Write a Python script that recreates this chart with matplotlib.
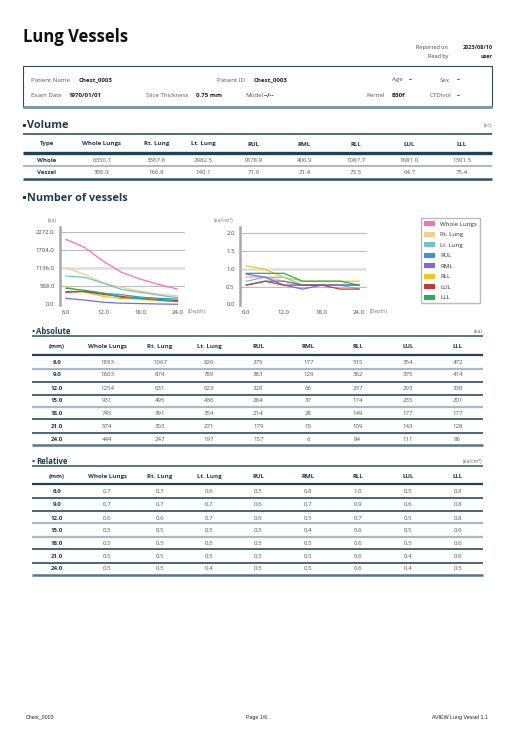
import matplotlib
matplotlib.use('Agg')
import matplotlib.pyplot as plt
from matplotlib.patches import Patch, Rectangle

plt.rcParams['font.family'] = ['Open Sans', 'DejaVu Sans']

regions = ['Whole Lungs', 'Rt. Lung', 'Lt. Lung', 'RUL', 'RML', 'RLL', 'LUL', 'LLL']
colors = ['#ff6eb4', '#f0cf8f', '#6cc6b9', '#3a90dc', '#7b68e6', '#f6c31a', '#c33a2e', '#29ab5e']

vol_whole = [6350.1, 3367.6, 2982.5, 1878.9, 400.9, 1087.7, 1681.0, 1301.5]
vol_vessel = [306.9, 166.8, 140.1, 71.9, 21.4, 73.5, 64.7, 75.4]

depths = [6.0, 9.0, 12.0, 15.0, 18.0, 21.0, 24.0]

# tables, one row per depth
abs_rows = [
    [1893, 1067, 826, 375, 177, 515, 354, 472],
    [1663, 874, 789, 383, 129, 362, 375, 414],
    [1254, 631, 623, 328, 66, 237, 293, 330],
    [931, 495, 436, 284, 37, 174, 235, 201],
    [745, 391, 354, 214, 28, 149, 177, 177],
    [574, 303, 271, 179, 15, 109, 143, 128],
    [444, 247, 197, 157, 6, 84, 111, 86],
]
rel_rows = [
    [0.7, 0.7, 0.6, 0.5, 0.8, 1.0, 0.5, 0.8],
    [0.7, 0.7, 0.7, 0.6, 0.7, 0.9, 0.6, 0.8],
    [0.6, 0.6, 0.7, 0.6, 0.5, 0.7, 0.5, 0.8],
    [0.5, 0.5, 0.5, 0.5, 0.4, 0.6, 0.5, 0.6],
    [0.5, 0.5, 0.5, 0.5, 0.5, 0.6, 0.5, 0.6],
    [0.5, 0.5, 0.5, 0.5, 0.5, 0.6, 0.4, 0.6],
    [0.5, 0.5, 0.4, 0.5, 0.5, 0.6, 0.4, 0.5],
]

# chart lines, one list per region
line_abs = [
    [2051, 1799, 1367, 1010, 799, 631, 484],
    [1158, 948, 685, 537, 424, 329, 268],
    [896, 856, 676, 473, 384, 294, 214],
    [407, 416, 356, 308, 232, 194, 170],
    [192, 140, 72, 40, 30, 16, 7],
    [559, 393, 257, 189, 162, 118, 91],
    [384, 407, 318, 255, 192, 155, 120],
    [512, 449, 358, 218, 192, 139, 93],
]
line_rel = [
    [0.76, 0.76, 0.65, 0.54, 0.54, 0.54, 0.54],
    [0.76, 0.76, 0.65, 0.54, 0.54, 0.54, 0.54],
    [0.65, 0.76, 0.76, 0.54, 0.54, 0.54, 0.43],
    [0.54, 0.65, 0.65, 0.54, 0.54, 0.54, 0.54],
    [0.85, 0.76, 0.54, 0.43, 0.54, 0.54, 0.54],
    [1.08, 0.98, 0.76, 0.65, 0.65, 0.65, 0.65],
    [0.54, 0.65, 0.54, 0.54, 0.54, 0.43, 0.43],
    [0.87, 0.87, 0.87, 0.65, 0.65, 0.65, 0.54],
]
abs_ticks = [0.0, 568.0, 1136.0, 1704.0, 2272.0]
rel_ticks = [0.0, 0.5, 1.0, 1.5, 2.0]
x_ticks = [6.0, 12.0, 18.0, 24.0]

W, H = 513, 730
NAVY = '#1e3a4c'
DARK = '#2c4b5e'
LIGHT = '#a6bac6'
GRAY = '#555555'

fig = plt.figure(figsize=(W / 100, H / 100), dpi=100)
bg = fig.add_axes([0, 0, 1, 1])
bg.set_xlim(0, W)
bg.set_ylim(H, 0)
bg.axis('off')


def txt(x, y, s, size=4.8, ha='left', color=GRAY, weight='normal', **kw):
    bg.text(x, y, s, fontsize=size, ha=ha, va='center', color=color, fontweight=weight, **kw)


def hline(y, x0, x1, color=DARK, lw=1.0):
    bg.plot([x0, x1], [y, y], color=color, lw=lw, solid_capstyle='butt')


# header
bg.text(23, 41.5, 'Lung Vessels', fontsize=12, fontweight='bold', color='#111111', va='baseline')
txt(448, 47.7, 'Reported on', 4.0, ha='right', color='#444')
txt(448, 56.7, 'Read by', 4.0, ha='right', color='#444')
txt(492.7, 47.7, '2023/08/10', 4.0, ha='right', color='#222', weight='bold')
txt(492.7, 56.7, 'user', 4.0, ha='right', color='#222', weight='bold')

bg.add_patch(Rectangle((22.7, 66), 469.6, 41.3, fill=False, edgecolor=DARK, lw=0.8))
hline(107.3, 22.7, 492.3, color='#7e9aaa', lw=2.2)
info = [
    (30.7, 80, 'Patient Name', False), (79, 80, 'Chest_0003', True),
    (216.7, 80, 'Patient ID', False), (253.3, 80, 'Chest_0003', True),
    (391.7, 80, 'Age', False), (409, 80, '--', True),
    (440, 80, 'Sex', False), (456.7, 80, '--', True),
    (30.7, 95.7, 'Exam Date', False), (68.3, 95.7, '1970/01/01', True),
    (145.7, 95.7, 'Slice Thickness', False), (196, 95.7, '0.75 mm', True),
    (245.7, 95.7, 'Model', False), (264, 95.7, '--/--', True),
    (366.7, 95.7, 'Kernel', False), (391.7, 95.7, 'B30f', True),
    (430, 95.7, 'CTDIvol', False), (456.7, 95.7, '--', True),
]
for x, y, s, b in info:
    txt(x, y, s, 4.4, color='#222' if b else '#555', weight='bold' if b else 'normal')


def section(y, s):
    bg.add_patch(Rectangle((22.7, y - 2.2), 3, 3, color=NAVY, lw=0))
    txt(27, y, s, 7.8, color=NAVY, weight='bold')


# volume table
section(126, 'Volume')
txt(492.7, 125.7, '(cc)', 4.0, ha='right', color='#666')
vcols = [46.7, 101.7, 156.7, 203.3, 253.3, 304.3, 356, 409.3, 461.7]
hline(134.3, 22.7, 492.3, color='#4d6b7c', lw=1.4)
hline(152.7, 22.7, 492.3, color='#1f4256', lw=2.4)
hline(166, 22.7, 492.3, color=LIGHT, lw=1.4)
hline(179, 22.7, 492.3, color='#2e5065', lw=1.8)
for x, s in zip(vcols, ['Type'] + regions):
    txt(x, 144, s, 4.4, ha='center', color=NAVY, weight='bold')
txt(vcols[0], 160, 'Whole', 4.4, ha='center', color=NAVY, weight='bold')
txt(vcols[0], 172.3, 'Vessel', 4.4, ha='center', color=NAVY, weight='bold')
for x, a, b in zip(vcols[1:], vol_whole, vol_vessel):
    txt(x, 160, f'{a:.1f}', 4.4, ha='center')
    txt(x, 172.3, f'{b:.1f}', 4.4, ha='center')

# charts
section(198.3, 'Number of vessels')


def chart(px0, px1, data, ticks, ymax, fmt, unit, unit_x):
    ax = fig.add_axes([px0 / W, 1 - 304.5 / H, (px1 - px0) / W, (304.5 - 226.7) / H])
    for i, vals in enumerate(data):
        ax.plot(depths, vals, color=colors[i], lw=0.9)
    for t in ticks:
        mid = t == ticks[2]
        ax.axhline(t, color='#dedede' if mid else '#bdbdbd', lw=1.8 if mid else 0.8, zorder=0)
    ax.set_xlim(5, 25.2)
    ax.set_ylim(0, ymax)
    ax.set_yticks(ticks)
    ax.set_yticklabels([fmt.format(t) for t in ticks])
    ax.set_xticks(x_ticks)
    ax.set_xticklabels([f'{t:.1f}' for t in x_ticks])
    ax.tick_params(length=0, labelsize=4.3, labelcolor='#444', pad=3.8)
    for s in ['top', 'right', 'bottom']:
        ax.spines[s].set_visible(False)
    ax.spines['left'].set_color('#a8a8a8')
    ax.spines['left'].set_linewidth(1.8)
    ax.set_facecolor('none')
    txt(px1 + 3, 311.5, '(Depth)', 3.7, color='#777')
    txt(unit_x, 220.5, unit, 3.7, color='#777')
    return ax


chart(59.7, 185, line_abs, abs_ticks, 2450, '{:.1f}', '(ea)', 47.5)
chart(240, 366.7, line_rel, rel_ticks, 2.17, '{:.1f}', '(ea/cm³)', 214)

handles = [Patch(facecolor=c, edgecolor='none') for c in colors]
fig.legend(handles, regions, loc='upper left', bbox_to_anchor=(421 / W, 1 - 218.3 / H),
           fontsize=4.4, frameon=True, fancybox=False, edgecolor='#aaaaaa',
           handlelength=1.8, handleheight=0.9, labelspacing=0.8, borderpad=0.45,
           handletextpad=0.9, borderaxespad=0, labelcolor='#333')


def count_table(title, unit, top, head_y, head_line, row_ys, lines, bottom, rows, fmt):
    bg.add_patch(plt.Circle((33.6, top - 5), 1.1, color=NAVY, lw=0))
    txt(36.5, top - 4.5, title, 5.6, color=NAVY, weight='bold')
    txt(482.7, top - 4.5, unit, 3.7, ha='right', color='#666')
    cols = [56.7, 107.3, 160, 209, 258.3, 308.3, 357.7, 407.7, 457.7]
    x0, x1 = 31.7, 482.7
    hline(top, x0, x1, color='#3f5f72', lw=1.2)
    hline(head_line, x0, x1, color='#1f4256', lw=1.6)
    for y, light in lines:
        hline(y, x0, x1, color=LIGHT if light else DARK, lw=1.6 if light else 1.2)
    hline(bottom, x0, x1, color='#577788', lw=1.8)
    for x, s in zip(cols, ['(mm)'] + regions):
        txt(x, head_y, s, 4.4, ha='center', color=NAVY, weight='bold')
    for y, d, row in zip(row_ys, depths, rows):
        txt(cols[0], y, f'{d:.1f}', 4.4, ha='center', color=NAVY, weight='bold')
        for x, v in zip(cols[1:], row):
            txt(x, y, fmt.format(v), 4.4, ha='center')


count_table('Absolute', '(ea)', 336, 346.7, 354.7,
            [362.3, 375, 388.3, 400.7, 413.7, 426.7, 439.3],
            [(368.7, True), (382, False), (394.7, False), (407.3, True), (419.3, False), (432.7, False)],
            445, abs_rows, '{}')
count_table('Relative', '(ea/cm³)', 466, 476.7, 484.3,
            [491.7, 505, 518.3, 530, 543.3, 556.3, 568.3],
            [(497.7, False), (510.7, False), (523.3, True), (536.7, True), (549.3, False), (562.7, False)],
            574.7, rel_rows, '{:.1f}')

# footer
for x, s, ha in [(26, 'Chest_0003', 'left'), (256.3, 'Page 1/6', 'center'), (488.3, 'AVIEW Lung Vessel 1.1', 'right')]:
    bg.text(x, 717.3, s, fontsize=3.8, ha=ha, va='center', color='#222', family='Liberation Sans')

fig.savefig('out.png', dpi=100)
